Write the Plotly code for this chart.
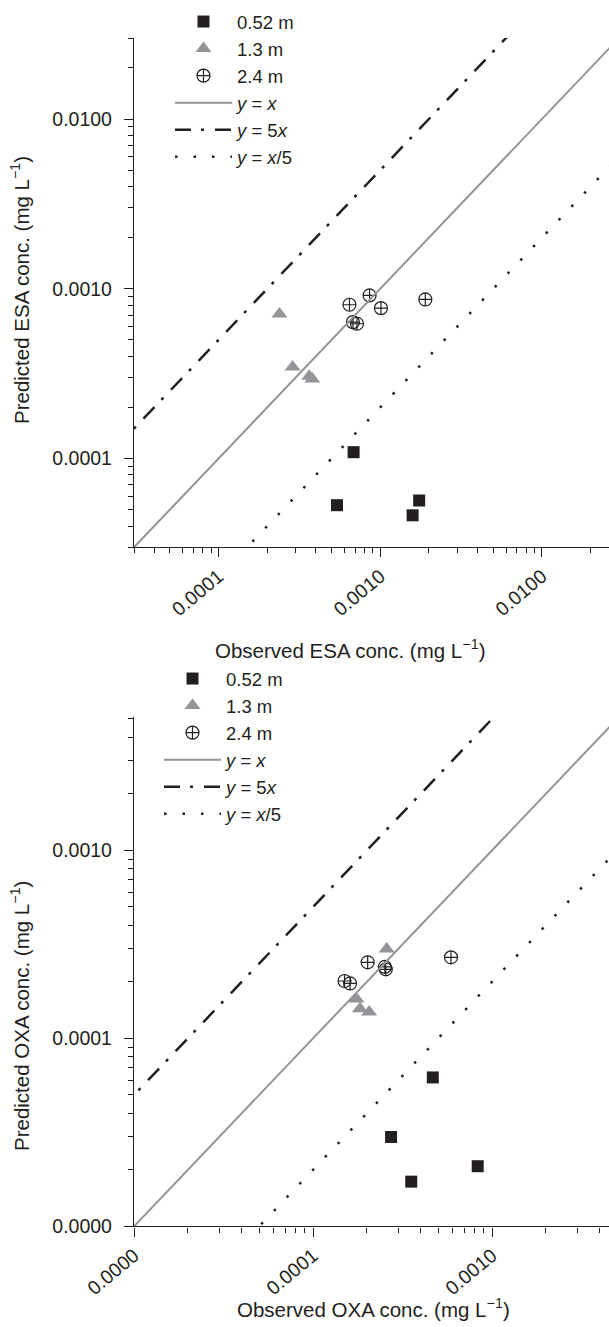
import math
import plotly.graph_objects as go

# ---------------- data ----------------
# ESA (top panel): observed vs predicted, mg/L
esa_052_obs = [6.84e-4, 5.40e-4, 1.74e-3, 1.585e-3]
esa_052_pred = [1.09e-4, 5.31e-5, 5.66e-5, 4.63e-5]
esa_13_obs = [2.38e-4, 2.87e-4, 3.64e-4, 3.80e-4]
esa_13_pred = [7.10e-4, 3.46e-4, 3.05e-4, 2.94e-4]
esa_24_obs = [6.45e-4, 8.59e-4, 1.01e-3, 6.78e-4, 7.18e-4, 1.90e-3]
esa_24_pred = [8.05e-4, 9.14e-4, 7.69e-4, 6.36e-4, 6.22e-4, 8.65e-4]

# OXA (bottom panel)
oxa_052_obs = [4.67e-4, 2.73e-4, 8.32e-4, 3.54e-4]
oxa_052_pred = [6.20e-5, 2.99e-5, 2.09e-5, 1.73e-5]
oxa_13_obs = [2.58e-4, 1.75e-4, 1.83e-4, 2.06e-4]
oxa_13_pred = [2.99e-4, 1.62e-4, 1.44e-4, 1.38e-4]
oxa_24_obs = [1.50e-4, 1.61e-4, 2.02e-4, 2.52e-4, 2.55e-4, 5.90e-4]
oxa_24_pred = [2.02e-4, 1.96e-4, 2.54e-4, 2.40e-4, 2.33e-4, 2.70e-4]

# reference lines y = k * x
ref_x = [1e-6, 1e-1]
ref_factors = [1, 5, 0.2]
ref_names = ["<i>y</i> = <i>x</i>", "<i>y</i> = 5<i>x</i>", "<i>y</i> = <i>x</i>/5"]

series_names = ["0.52 m", "1.3 m", "2.4 m"]

# tick labels
esa_tickvals = [1e-4, 1e-3, 1e-2]
esa_ticktext = ["0.0001", "0.0010", "0.0100"]
oxa_tickvals = [1e-5, 1e-4, 1e-3]
oxa_ticktext = ["0.0000", "0.0001", "0.0010"]

# ---------------- styling ----------------
INK = "#231f20"
GREY = "#939598"
FONT = "Liberation Sans, Arial, Helvetica, sans-serif"
W, H = 609, 1327

marker_styles = [
    dict(symbol="square", size=12, color=INK, line=dict(width=0)),
    dict(symbol="triangle-up", size=14, color=GREY, line=dict(width=0)),
    dict(symbol="circle-cross-open", size=13, color=INK, line=dict(width=1.2, color=INK)),
]
line_styles = [
    dict(color=GREY, width=2),
    dict(color=INK, width=2.5, dash="16px,10px,3px,11px"),
    dict(color=INK, width=2.5, dash="2.5px,16px"),
]


def minor_vals(lo_exp, hi_exp, lo, hi):
    out = []
    for e in range(lo_exp, hi_exp + 1):
        for m in range(2, 10):
            v = m * 10 ** e
            if lo * 0.999 <= v <= hi * 1.001:
                out.append(v)
    return out


fig = go.Figure()

panels = [
    dict(xa="x", ya="y", leg="legend",
         obs=[esa_052_obs, esa_13_obs, esa_24_obs],
         pred=[esa_052_pred, esa_13_pred, esa_24_pred]),
    dict(xa="x2", ya="y2", leg="legend2",
         obs=[oxa_052_obs, oxa_13_obs, oxa_24_obs],
         pred=[oxa_052_pred, oxa_13_pred, oxa_24_pred]),
]

for p in panels:
    for name, xs, ys, ms in zip(series_names, p["obs"], p["pred"], marker_styles):
        fig.add_trace(go.Scatter(x=xs, y=ys, mode="markers", name=name, marker=ms,
                                 xaxis=p["xa"], yaxis=p["ya"], legend=p["leg"],
                                 cliponaxis=False))
    for name, k, ls in zip(ref_names, ref_factors, line_styles):
        fig.add_trace(go.Scatter(x=ref_x, y=[k * v for v in ref_x], mode="lines",
                                 name=name, line=ls, xaxis=p["xa"], yaxis=p["ya"],
                                 legend=p["leg"]))


def px_x(v):
    return v / W


def px_y(v):
    return 1 - v / H


axis_common = dict(
    type="log", showgrid=False, zeroline=False, showline=True, linecolor=INK,
    linewidth=1.3, ticks="outside", ticklen=9, tickwidth=1.2, tickcolor=INK,
    tickfont=dict(family=FONT, size=19.5, color=INK), tickmode="array",
    automargin=False,
)

# top panel: axes corner at (134, 547); x decade 161.7 px, y decade 170 px
x1_lo = math.log10(3e-5)
x1_hi = x1_lo + (W - 134) / 161.7
y1_lo = math.log10(3e-5)
y1_hi = math.log10(0.03)
# bottom panel: corner at (134, 1226.4); x decade 179 px, y decade 188 px
x2_lo = -5
x2_hi = -5 + (W - 134) / 179
y2_lo = -5
y2_hi = -5 + (1226.4 - 716.7) / 188

minor_common = dict(ticks="outside", ticklen=5, tickwidth=1.1, tickcolor=INK, showgrid=False)

legend_common = dict(xanchor="left", yanchor="top", bgcolor="rgba(0,0,0,0)", borderwidth=0,
                     itemwidth=57, font=dict(family=FONT, size=18.5, color=INK),
                     tracegroupgap=0)

fig.update_layout(
    template="none",
    width=W, height=H, margin=dict(l=0, r=0, t=0, b=0, autoexpand=False),
    paper_bgcolor="white", plot_bgcolor="white",
    font=dict(family=FONT, size=19, color=INK),
    xaxis=dict(**axis_common, domain=[px_x(134), 1], range=[x1_lo, x1_hi], anchor="y",
               tickvals=esa_tickvals, ticktext=esa_ticktext, tickangle=-40,
               minor=dict(**minor_common, tickvals=[3e-5] + minor_vals(-5, -2, 4e-5, 0.03))),
    yaxis=dict(**axis_common, domain=[px_y(547.3), px_y(38)], range=[y1_lo, y1_hi], anchor="x",
               tickvals=esa_tickvals, ticktext=esa_ticktext, ticklabelstandoff=8,
               minor=dict(**minor_common, tickvals=minor_vals(-5, -2, 3e-5, 0.03))),
    xaxis2=dict(**axis_common, domain=[px_x(134), 1], range=[x2_lo, x2_hi], anchor="y2",
                tickvals=oxa_tickvals, ticktext=oxa_ticktext, tickangle=-40,
                minor=dict(**minor_common, tickvals=minor_vals(-5, -3, 2e-5, 5e-3))),
    yaxis2=dict(**axis_common, domain=[px_y(1226.4), px_y(716.7)], range=[y2_lo, y2_hi],
                anchor="x2", tickvals=oxa_tickvals, ticktext=oxa_ticktext, ticklabelstandoff=8,
                minor=dict(**minor_common, tickvals=minor_vals(-5, -3, 2e-5, 6e-3))),
    legend=dict(**legend_common, x=px_x(170), y=px_y(3)),
    legend2=dict(**legend_common, x=px_x(159), y=px_y(660)),
    showlegend=True,
)

title_font = dict(family=FONT, size=20.5, color=INK)
annotations = [
    dict(text="Observed ESA conc. (mg L<sup>\u22121</sup>)", x=px_x(350), y=px_y(649)),
    dict(text="Observed OXA conc. (mg L<sup>\u22121</sup>)", x=px_x(373), y=px_y(1308)),
    dict(text="Predicted ESA conc. (mg L<sup>\u22121</sup>)", x=px_x(20), y=px_y(290), textangle=-90),
    dict(text="Predicted OXA conc. (mg L<sup>\u22121</sup>)", x=px_x(20), y=px_y(1016), textangle=-90),
]
for a in annotations:
    fig.add_annotation(xref="paper", yref="paper", showarrow=False, xanchor="center",
                       yanchor="middle", font=title_font, **a)

fig.write_html("out.html")
